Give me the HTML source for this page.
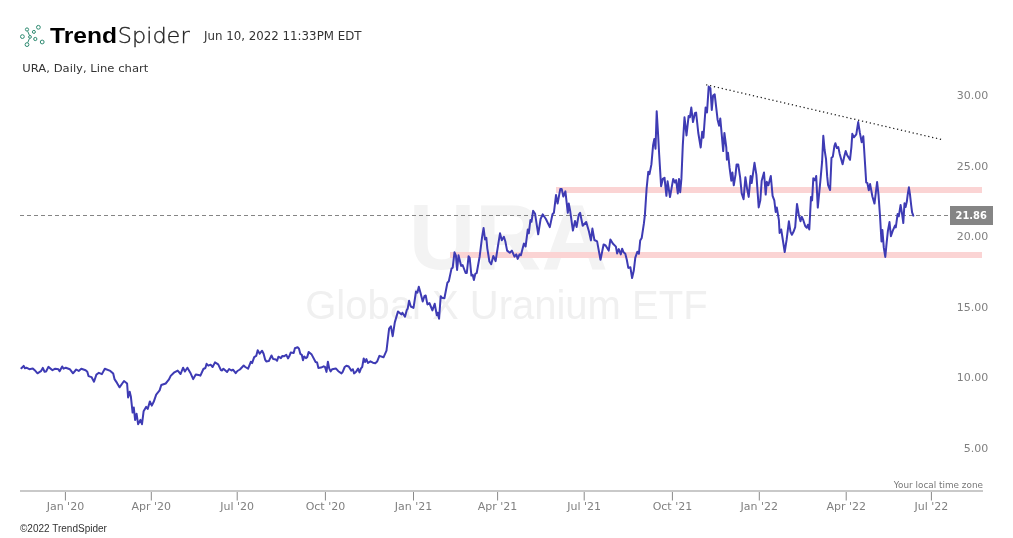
<!DOCTYPE html>
<html lang="en"><head><meta charset="utf-8"><title>URA, Daily, Line chart - TrendSpider</title>
<style>html,body{margin:0;padding:0;background:#fff;overflow:hidden}svg{display:block}</style>
</head><body>
<svg width="1013" height="538" viewBox="0 0 1013 538">
<rect width="1013" height="538" fill="#fff"/>
<text x="508.3" y="268.6" text-anchor="middle" font-family='"Liberation Sans", sans-serif' font-weight="700" font-size="92" fill="#f3f3f3">URA</text>
<text x="506.4" y="319.2" text-anchor="middle" font-family='"Liberation Sans", sans-serif' font-size="40" fill="#f0f0f0">Global X Uranium ETF</text>
<rect x="556" y="187" width="426" height="6" fill="#fbd4d4"/>
<rect x="450" y="252" width="532" height="6" fill="#fbd4d4"/>
<line x1="20" y1="215.5" x2="948" y2="215.5" stroke="#858585" stroke-width="1" stroke-dasharray="4 3"/>
<line x1="706.1" y1="84.75" x2="941.3" y2="139.45" stroke="#1a1a1a" stroke-width="1.25" stroke-dasharray="1.25 2.75"/>
<path d="M21.4 368.2 L23.7 365.9 L24.9 368.2 L26.4 367.7 L29.3 369.2 L32.8 368.5 L34.7 370.2 L37.5 373.3 L40.9 371.2 L42.8 367.9 L44.6 371.7 L46.1 371.5 L48.4 366.9 L52.5 370.2 L55.3 368.7 L58.4 369.2 L59.6 371.2 L62.2 366.5 L63.6 368.7 L65.8 367.7 L69.8 369.2 L73.0 373.3 L76.2 369.5 L78.7 370.9 L81.3 368.7 L85.6 370.2 L87.3 371.7 L88.5 376.1 L91.5 377.1 L94.0 381.7 L96.4 374.6 L98.9 372.8 L101.9 374.1 L104.8 368.7 L110.3 370.9 L113.2 373.6 L114.5 379.1 L117.0 382.9 L119.5 387.3 L124.0 381.0 L127.1 383.5 L128.1 397.4 L129.7 391.7 L130.9 396.8 L132.6 412.6 L133.8 407.5 L135.1 419.9 L136.6 413.8 L138.1 424.2 L140.4 419.9 L142.0 424.2 L143.6 411.3 L146.1 406.9 L147.7 409.0 L149.9 401.4 L151.8 405.6 L153.7 401.8 L156.2 394.6 L159.6 390.4 L161.3 385.0 L165.7 383.5 L168.8 379.7 L170.7 375.9 L173.9 372.7 L177.7 370.6 L180.6 374.0 L183.1 367.7 L184.9 371.5 L187.4 367.7 L190.3 372.7 L193.2 379.1 L195.8 374.4 L199.8 375.3 L200.4 375.6 L203.4 369.0 L205.4 368.0 L206.6 363.8 L208.3 365.7 L210.6 364.7 L212.6 367.0 L215.0 362.4 L218.2 364.4 L220.9 370.0 L222.1 370.5 L223.4 368.7 L227.1 372.0 L229.1 369.0 L231.5 370.5 L233.0 369.7 L235.7 373.2 L237.4 371.0 L239.9 369.5 L243.7 365.5 L245.3 367.0 L248.1 368.7 L250.8 361.8 L252.1 363.1 L254.2 357.1 L256.2 355.9 L257.7 350.2 L259.7 353.7 L262.1 350.7 L263.6 353.7 L265.1 359.6 L266.3 361.4 L268.8 361.1 L271.5 355.5 L273.2 359.1 L275.9 359.6 L277.1 360.8 L278.4 356.7 L280.9 358.1 L282.4 355.9 L284.3 356.2 L286.3 354.9 L288.0 358.4 L289.4 356.1 L290.7 352.6 L293.7 353.1 L294.9 348.2 L297.6 347.2 L299.0 348.7 L300.3 353.8 L301.8 354.8 L303.0 360.3 L304.2 356.4 L305.9 358.1 L307.2 357.1 L308.7 351.9 L311.7 354.6 L315.6 362.0 L317.1 362.5 L318.4 367.9 L321.0 367.6 L323.7 366.3 L325.0 367.0 L326.5 371.9 L327.9 361.7 L329.2 368.4 L330.6 371.4 L332.2 369.2 L335.8 368.4 L338.3 371.2 L341.5 373.4 L342.7 371.9 L344.7 367.0 L346.4 365.7 L348.7 366.5 L351.3 370.6 L352.9 369.2 L354.1 373.4 L356.3 371.4 L358.1 368.6 L359.5 372.4 L361.0 368.4 L362.2 367.0 L363.7 358.4 L365.0 362.0 L366.4 359.1 L367.9 363.0 L370.4 361.3 L372.9 362.7 L375.3 363.3 L377.1 361.6 L379.4 355.9 L383.5 357.3 L386.5 350.6 L389.1 328.6 L390.9 326.3 L392.7 336.2 L394.8 322.4 L398.0 311.4 L401.5 314.4 L402.4 312.7 L405.0 316.7 L406.8 310.0 L407.7 308.6 L409.1 300.8 L410.8 306.5 L413.5 307.9 L416.0 291.5 L417.4 292.7 L418.8 286.7 L420.6 293.2 L422.7 301.5 L424.4 296.2 L425.7 295.5 L427.4 304.4 L429.4 303.0 L432.4 310.4 L434.7 303.8 L436.8 315.3 L437.7 312.7 L439.1 318.8 L440.7 296.2 L441.8 297.7 L444.4 298.2 L447.4 282.7 L448.8 281.3 L451.5 268.6 L452.7 267.7 L454.5 252.3 L455.9 255.3 L457.1 270.0 L458.5 255.3 L461.2 265.9 L462.6 265.0 L465.6 273.0 L466.8 273.0 L468.6 256.2 L469.7 258.0 L471.4 275.6 L472.7 274.8 L473.9 280.0 L475.3 273.9 L476.7 273.0 L479.7 256.2 L482.0 237.7 L483.6 228.0 L485.0 239.4 L486.3 237.7 L487.3 248.3 L489.4 261.5 L491.2 264.2 L493.3 255.9 L495.6 261.2 L498.3 243.8 L500.0 233.3 L501.8 240.3 L503.9 236.8 L505.3 241.2 L507.1 250.6 L509.8 252.7 L511.9 250.6 L514.5 256.6 L516.3 254.4 L517.7 258.9 L519.5 254.4 L520.9 255.3 L523.9 243.5 L525.6 246.5 L527.8 229.4 L528.8 233.3 L530.4 220.0 L531.5 221.8 L533.1 211.2 L533.1 210.8 L535.1 213.8 L538.2 234.3 L540.6 219.0 L542.7 214.3 L545.9 219.0 L549.8 227.1 L552.5 214.3 L553.9 212.8 L556.0 195.0 L557.6 203.6 L560.3 188.9 L561.7 188.9 L563.3 196.5 L565.4 191.4 L567.8 212.8 L568.8 203.6 L570.3 211.8 L572.9 230.6 L575.0 221.0 L576.6 227.1 L578.7 214.9 L580.1 212.8 L582.7 225.7 L586.2 222.0 L588.9 231.2 L590.9 240.4 L592.4 228.6 L594.4 240.0 L597.1 241.4 L600.5 259.8 L603.6 244.5 L605.6 245.5 L608.7 250.6 L610.4 239.4 L612.8 243.5 L615.9 246.6 L617.1 253.4 L618.8 249.1 L620.8 254.4 L622.1 248.7 L623.6 252.3 L625.3 253.8 L626.8 259.8 L628.3 267.9 L630.4 267.3 L632.1 278.0 L633.8 270.5 L635.3 257.6 L637.4 251.7 L638.9 253.8 L640.2 240.5 L641.7 238.0 L643.9 223.4 L644.9 214.9 L646.6 188.6 L648.3 171.7 L649.5 174.1 L651.4 164.4 L653.1 145.1 L654.3 139.0 L655.5 148.7 L656.7 111.2 L658.0 133.0 L659.2 154.7 L661.1 186.2 L662.8 178.9 L664.5 177.7 L666.4 195.8 L667.6 181.3 L670.0 197.0 L671.7 187.4 L673.2 178.9 L674.9 182.5 L676.1 180.1 L677.8 193.4 L679.0 178.9 L680.2 192.2 L681.4 178.9 L682.8 145.1 L684.5 117.3 L686.5 135.4 L688.6 116.1 L689.9 117.3 L691.3 107.6 L693.0 122.1 L694.9 113.2 L696.1 112.5 L698.3 133.0 L700.7 147.5 L702.2 131.8 L703.4 137.8 L705.6 107.6 L707.0 112.5 L708.7 86.6 L710.4 88.3 L711.8 110.0 L713.1 95.5 L714.7 94.3 L717.6 119.7 L719.1 125.7 L720.3 118.5 L723.2 151.1 L724.4 133.0 L726.3 147.5 L726.9 159.7 L728.0 152.8 L729.6 167.9 L731.3 180.7 L732.4 172.5 L733.8 185.3 L735.5 174.9 L736.6 164.4 L738.2 164.4 L740.1 177.2 L741.7 193.4 L743.6 199.2 L745.4 177.2 L747.1 188.8 L748.7 196.9 L750.6 176.0 L751.7 183.0 L754.5 162.8 L756.4 174.9 L758.7 207.4 L760.3 200.4 L761.7 180.7 L764.0 172.5 L765.7 194.6 L766.8 181.8 L768.4 185.3 L770.8 176.0 L772.6 195.8 L774.3 200.4 L775.7 212.0 L776.8 207.4 L778.9 220.2 L779.6 232.9 L781.2 229.5 L784.7 252.0 L786.6 239.9 L788.9 221.3 L790.5 231.8 L791.9 234.8 L793.5 231.8 L795.2 227.1 L797.0 203.9 L798.9 215.5 L800.5 221.3 L801.7 216.7 L803.3 220.2 L805.2 226.0 L806.8 227.8 L807.9 224.8 L809.3 229.5 L811.0 196.9 L812.1 200.4 L813.3 178.3 L814.9 180.3 L816.2 176.0 L817.8 207.6 L820.7 177.3 L822.1 161.7 L823.3 135.8 L824.6 150.0 L826.0 158.8 L827.2 176.4 L828.1 185.1 L830.1 190.0 L831.5 157.8 L832.8 156.8 L834.4 146.1 L835.4 143.2 L836.9 148.1 L838.3 147.1 L839.7 153.9 L842.6 164.3 L844.2 156.8 L845.7 151.0 L847.1 154.9 L850.0 159.8 L851.4 147.1 L852.3 133.8 L853.9 137.3 L856.3 134.4 L858.2 122.1 L859.8 132.4 L861.7 142.2 L863.3 136.3 L864.6 156.8 L866.2 182.4 L867.4 183.2 L868.8 190.3 L870.1 184.1 L872.4 196.5 L874.5 203.6 L877.1 182.0 L878.5 194.7 L880.0 215.9 L881.5 241.5 L882.4 230.0 L883.8 247.7 L885.3 256.9 L886.5 244.2 L887.9 230.9 L889.5 222.1 L890.9 236.2 L892.7 230.9 L895.0 225.6 L895.8 227.4 L897.6 214.1 L898.8 216.3 L900.6 205.0 L902.0 213.3 L903.3 223.0 L904.5 203.2 L905.6 207.1 L906.8 201.8 L907.7 194.7 L908.9 187.3 L910.0 194.7 L911.2 205.3 L912.1 212.4 L913.3 215.6" fill="none" stroke="#3e3bb4" stroke-width="2" stroke-linejoin="round" stroke-linecap="round"/>
<rect x="950" y="206" width="43" height="19" fill="#858585"/>
<text x="971.2" y="219.4" text-anchor="middle" font-family='"DejaVu Sans Condensed", "DejaVu Sans", sans-serif' font-weight="700" font-size="11" fill="#fff">21.86</text>
<text x="988.3" y="99.1" text-anchor="end" font-family='"DejaVu Sans", "Liberation Sans", sans-serif' font-size="11" fill="#808080">30.00</text>
<text x="988.3" y="169.7" text-anchor="end" font-family='"DejaVu Sans", "Liberation Sans", sans-serif' font-size="11" fill="#808080">25.00</text>
<text x="988.3" y="240.2" text-anchor="end" font-family='"DejaVu Sans", "Liberation Sans", sans-serif' font-size="11" fill="#808080">20.00</text>
<text x="988.3" y="310.8" text-anchor="end" font-family='"DejaVu Sans", "Liberation Sans", sans-serif' font-size="11" fill="#808080">15.00</text>
<text x="988.3" y="381.4" text-anchor="end" font-family='"DejaVu Sans", "Liberation Sans", sans-serif' font-size="11" fill="#808080">10.00</text>
<text x="988.3" y="452.0" text-anchor="end" font-family='"DejaVu Sans", "Liberation Sans", sans-serif' font-size="11" fill="#808080">5.00</text>
<rect x="20" y="490" width="963" height="2" fill="#c9c9c9"/>
<rect x="64.9" y="492" width="1" height="8.5" fill="#8a8a8a"/>
<text x="65.4" y="509.8" text-anchor="middle" font-family='"DejaVu Sans", "Liberation Sans", sans-serif' font-size="11" fill="#808080">Jan '20</text>
<rect x="150.8" y="492" width="1" height="8.5" fill="#8a8a8a"/>
<text x="151.3" y="509.8" text-anchor="middle" font-family='"DejaVu Sans", "Liberation Sans", sans-serif' font-size="11" fill="#808080">Apr '20</text>
<rect x="236.7" y="492" width="1" height="8.5" fill="#8a8a8a"/>
<text x="237.2" y="509.8" text-anchor="middle" font-family='"DejaVu Sans", "Liberation Sans", sans-serif' font-size="11" fill="#808080">Jul '20</text>
<rect x="324.9" y="492" width="1" height="8.5" fill="#8a8a8a"/>
<text x="325.4" y="509.8" text-anchor="middle" font-family='"DejaVu Sans", "Liberation Sans", sans-serif' font-size="11" fill="#808080">Oct '20</text>
<rect x="413.0" y="492" width="1" height="8.5" fill="#8a8a8a"/>
<text x="413.5" y="509.8" text-anchor="middle" font-family='"DejaVu Sans", "Liberation Sans", sans-serif' font-size="11" fill="#808080">Jan '21</text>
<rect x="497.1" y="492" width="1" height="8.5" fill="#8a8a8a"/>
<text x="497.6" y="509.8" text-anchor="middle" font-family='"DejaVu Sans", "Liberation Sans", sans-serif' font-size="11" fill="#808080">Apr '21</text>
<rect x="583.7" y="492" width="1" height="8.5" fill="#8a8a8a"/>
<text x="584.2" y="509.8" text-anchor="middle" font-family='"DejaVu Sans", "Liberation Sans", sans-serif' font-size="11" fill="#808080">Jul '21</text>
<rect x="671.9" y="492" width="1" height="8.5" fill="#8a8a8a"/>
<text x="672.4" y="509.8" text-anchor="middle" font-family='"DejaVu Sans", "Liberation Sans", sans-serif' font-size="11" fill="#808080">Oct '21</text>
<rect x="758.8" y="492" width="1" height="8.5" fill="#8a8a8a"/>
<text x="759.3" y="509.8" text-anchor="middle" font-family='"DejaVu Sans", "Liberation Sans", sans-serif' font-size="11" fill="#808080">Jan '22</text>
<rect x="845.7" y="492" width="1" height="8.5" fill="#8a8a8a"/>
<text x="846.2" y="509.8" text-anchor="middle" font-family='"DejaVu Sans", "Liberation Sans", sans-serif' font-size="11" fill="#808080">Apr '22</text>
<rect x="930.9" y="492" width="1" height="8.5" fill="#8a8a8a"/>
<text x="931.4" y="509.8" text-anchor="middle" font-family='"DejaVu Sans", "Liberation Sans", sans-serif' font-size="11" fill="#808080">Jul '22</text>
<text x="983" y="487.8" text-anchor="end" font-family='"DejaVu Sans", "Liberation Sans", sans-serif' font-size="9.3" fill="#777" textLength="89.2" lengthAdjust="spacingAndGlyphs">Your local time zone</text>
<circle cx="27.0" cy="29.5" r="1.6" fill="none" stroke="#2d8a70" stroke-width="1"/>
<circle cx="38.4" cy="27.3" r="1.9" fill="none" stroke="#2d8a70" stroke-width="1"/>
<circle cx="33.9" cy="31.9" r="1.5" fill="none" stroke="#2d8a70" stroke-width="1"/>
<circle cx="22.4" cy="36.6" r="1.9" fill="none" stroke="#2d8a70" stroke-width="1"/>
<circle cx="30.0" cy="36.9" r="1.4" fill="none" stroke="#2d8a70" stroke-width="1"/>
<circle cx="35.3" cy="39.0" r="1.6" fill="none" stroke="#2d8a70" stroke-width="1"/>
<circle cx="42.2" cy="42.0" r="1.9" fill="none" stroke="#2d8a70" stroke-width="1"/>
<circle cx="27.0" cy="44.6" r="1.9" fill="none" stroke="#2d8a70" stroke-width="1"/>
<path d="M27.7 31.3 L29.4 35.3 M29.4 38.5 L27.8 42.5" stroke="#2f8a72" stroke-width="1" fill="none"/>
<text x="50" y="43" font-family='"Liberation Sans", sans-serif' font-weight="700" font-size="22.5" fill="#000" textLength="67" lengthAdjust="spacingAndGlyphs">Trend</text>
<text x="117.8" y="43" font-family='"DejaVu Sans", "Liberation Sans", sans-serif' font-weight="200" font-size="22" fill="#222" stroke="#222" stroke-width="0.3" textLength="71.8" lengthAdjust="spacingAndGlyphs">Spider</text>
<text x="204" y="40" font-family='"DejaVu Sans", "Liberation Sans", sans-serif' font-size="12" fill="#333" textLength="157.5" lengthAdjust="spacingAndGlyphs">Jun 10, 2022 11:33PM EDT</text>
<text x="22.3" y="71.8" font-family='"DejaVu Sans", "Liberation Sans", sans-serif' font-size="11.3" fill="#333" textLength="126" lengthAdjust="spacingAndGlyphs">URA, Daily, Line chart</text>
<text x="20" y="532.2" font-family='"Liberation Sans", sans-serif' font-size="10" fill="#333">©2022 TrendSpider</text>
</svg>
</body></html>
